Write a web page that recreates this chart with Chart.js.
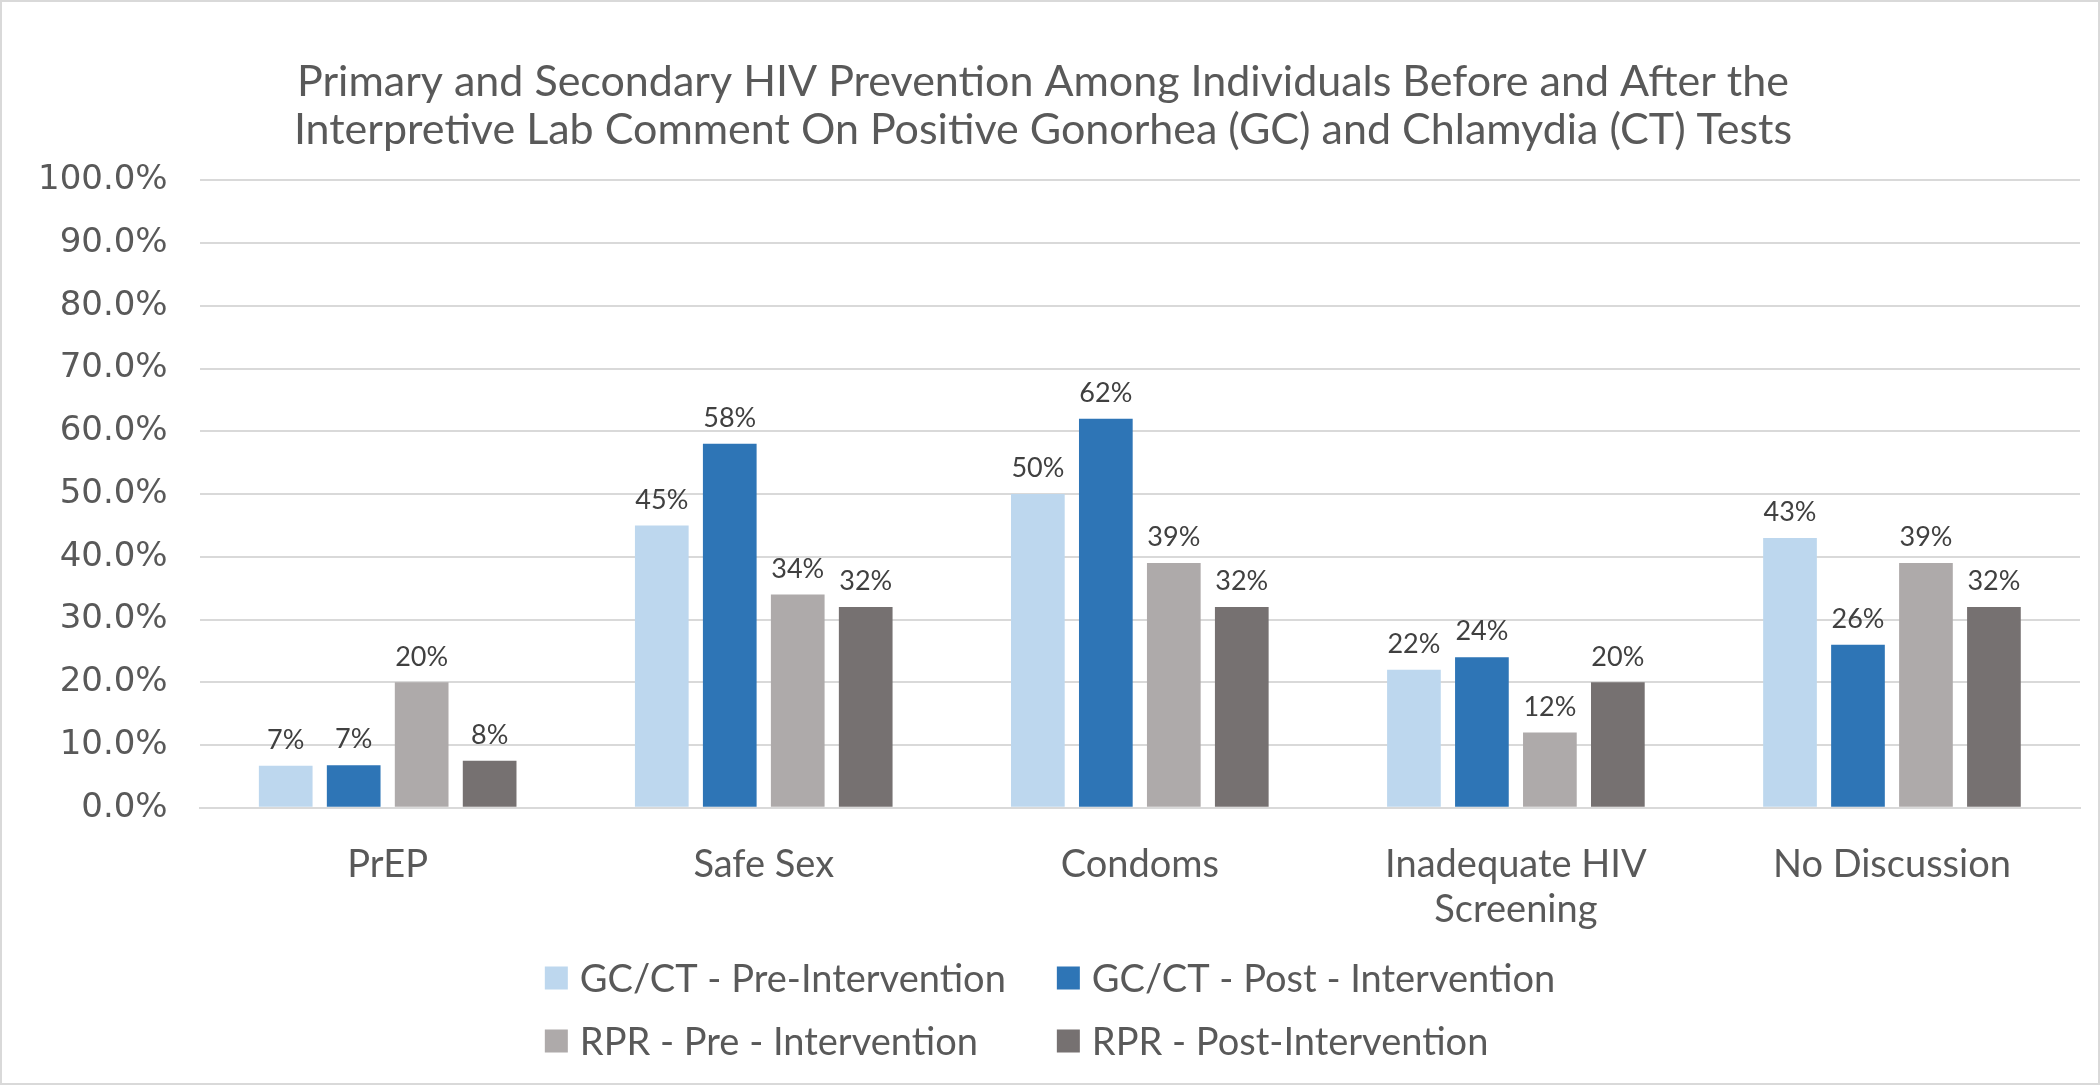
<!DOCTYPE html>
<html>
  <head>
    <meta charset="utf-8" />
    <title>HIV prevention chart</title>
    <script src="https://cdn.jsdelivr.net/npm/chart.js"></script>
    <style>
      body { margin: 0; background: #fff; }
      #frame { width: 2100px; height: 1085px; box-sizing: border-box; border: 2px solid #d9d9d9; }
    </style>
  </head>
  <body>
    <div id="frame">
      <canvas id="hivChart" width="2096" height="1081"></canvas>
    </div>
    <script type="text/javascript">
      var categories = ['PrEP', 'Safe Sex', 'Condoms', ['Inadequate HIV', 'Screening'], 'No Discussion']
      var seriesNames = ['GC/CT - Pre-Intervention', 'GC/CT - Post - Intervention', 'RPR - Pre - Intervention', 'RPR - Post-Intervention']
      var gcctPre = [6.7, 45, 50, 22, 43]
      var gcctPost = [6.8, 58, 62, 24, 26]
      var rprPre = [20, 34, 39, 12, 39]
      var rprPost = [7.5, 32, 32, 20, 32]
      var yTicks = [0, 10, 20, 30, 40, 50, 60, 70, 80, 90, 100]

      var colors = ['#bdd7ee', '#2e75b6', '#aeaaaa', '#767171']
      var textColor = '#595959'

      // value labels on top of each bar
      var barLabels = {
        id: 'barLabels',
        afterDatasetsDraw: function(chart) {
          var ctx = chart.ctx
          ctx.save()
          ctx.font = '27px Lato'
          ctx.fillStyle = '#404040'
          ctx.textAlign = 'center'
          ctx.textBaseline = 'bottom'
          chart.data.datasets.forEach(function(ds, i) {
            chart.getDatasetMeta(i).data.forEach(function(bar, j) {
              ctx.fillText(Math.round(ds.data[j]) + '%', bar.x, bar.y - 12)
            })
          })
          ctx.restore()
        }
      }

      // two-column legend, columns left aligned like the original
      var gridLegend = {
        id: 'gridLegend',
        afterDraw: function(chart) {
          var ctx = chart.ctx
          var ds = chart.data.datasets
          var box = 23, gap = 12, colGap = 51, rowH = 63
          ctx.save()
          ctx.font = '38px Lato'
          ctx.textBaseline = 'middle'
          var col1 = Math.max(ctx.measureText(ds[0].label).width, ctx.measureText(ds[2].label).width)
          var col2 = Math.max(ctx.measureText(ds[1].label).width, ctx.measureText(ds[3].label).width)
          var total = box + gap + col1 + colGap + box + gap + col2
          var x0 = (chart.width - total) / 2
          var xs = [x0, x0 + box + gap + col1 + colGap]
          var y0 = chart.height - 105
          ds.forEach(function(d, i) {
            var x = xs[i % 2]
            var y = y0 + Math.floor(i / 2) * rowH
            ctx.fillStyle = d.backgroundColor
            ctx.fillRect(x, y - box / 2, box, box)
            ctx.fillStyle = textColor
            ctx.fillText(d.label, x + box + gap, y + 2)
          })
          ctx.restore()
        }
      }

      var allSeries = [gcctPre, gcctPost, rprPre, rprPost]
      var datasets = allSeries.map(function(values, i) {
        return {
          label: seriesNames[i],
          data: values,
          backgroundColor: colors[i],
          categoryPercentage: 0.723,
          barPercentage: 0.79
        }
      })

      var ctx = document.getElementById('hivChart').getContext('2d')
      new Chart(ctx, {
        type: 'bar',
        data: { labels: categories, datasets: datasets },
        plugins: [barLabels, gridLegend],
        options: {
          responsive: false,
          animation: false,
          layout: { padding: { left: 4, right: 18, bottom: 124 } },
          plugins: {
            legend: { display: false },
            tooltip: { enabled: false },
            title: {
              display: true,
              text: ['Primary and Secondary HIV Prevention Among Individuals Before and After the',
                     'Interpretive Lab Comment On Positive Gonorhea (GC) and Chlamydia (CT) Tests'],
              color: textColor,
              font: { family: 'Lato', size: 43, weight: 'normal', lineHeight: 1.12 },
              padding: { top: 56, bottom: 26 }
            }
          },
          scales: {
            x: {
              grid: { display: false },
              border: { color: '#d9d9d9', width: 2 },
              ticks: { color: textColor, font: { family: 'Lato', size: 38 }, padding: 26 }
            },
            y: {
              min: 0,
              max: 100,
              afterBuildTicks: function(axis) {
                axis.ticks = yTicks.map(function(v) { return { value: v } })
              },
              grid: { color: '#d9d9d9', lineWidth: 2, drawTicks: false },
              border: { display: false },
              ticks: {
                color: textColor,
                font: { family: 'DejaVu Sans', size: 34 },
                padding: 32,
                callback: function(v) { return v.toFixed(1) + '%' }
              }
            }
          }
        }
      })
    </script>
  </body>
</html>
